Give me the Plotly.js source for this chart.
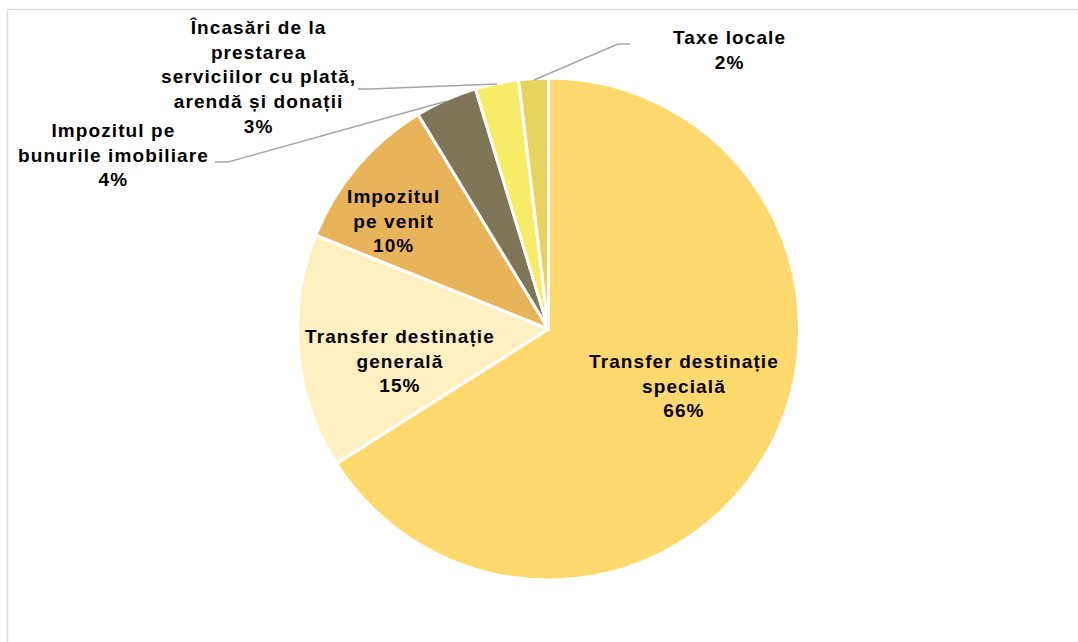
<!DOCTYPE html>
<html>
<head>
<meta charset="utf-8">
<script src="https://cdn.plot.ly/plotly-3.0.1.min.js"></script>
<style>html,body{margin:0;padding:0;background:#fff;}#chart{width:1078px;height:642px;} text{letter-spacing:1.1px;}</style>
</head>
<body>
<div id="chart"></div>
<script>
const labels = [
  "Transfer destinație specială",
  "Transfer destinație generală",
  "Impozitul pe venit",
  "Impozitul pe bunurile imobiliare",
  "Încasări de la prestarea serviciilor cu plată, arendă și donații",
  "Taxe locale"
];
const wrappedLabels = [
  "Transfer destinație<br>specială",
  "Transfer destinație<br>generală",
  "Impozitul<br>pe venit",
  "Impozitul pe<br>bunurile imobiliare",
  "Încasări de la<br>prestarea<br>serviciilor cu plată,<br>arendă și donații",
  "Taxe locale"
];
const values = [66.0, 15.1, 10.2, 4.0, 2.8, 1.9];
const colors = ["#FFD86E", "#FFF0C2", "#E8B45A", "#7F7659", "#F8EC66", "#E8D25E"];

const W = 1078, H = 642;
const px = x => x / W;
const py = y => 1 - y / H;
const total = values.reduce((a, b) => a + b, 0);
const pct = values.map(v => Math.round(v / total * 100) + "%");

// label anchor positions (pixels)
const labelPos = [[684, 386], [400, 361], [393, 221], [113, 155], [258, 77], [729, 50]];

const annotations = labels.map((l, i) => ({
  xref: "paper", yref: "paper",
  x: px(labelPos[i][0]), y: py(labelPos[i][1]),
  xanchor: "center", yanchor: "middle",
  text: "<b>" + wrappedLabels[i] + "<br>" + pct[i] + "</b>",
  showarrow: false,
  align: "center",
  font: {family: "Liberation Sans, Arial, sans-serif", size: 19, color: "#000000"}
}));

const leader = [
  [[534, 80], [618, 44], [630, 44]],
  [[358, 89], [370, 89], [497, 84]],
  [[215, 162], [228, 162], [447, 101]]
];
const shapes = [];
leader.forEach(pts => {
  for (let k = 0; k < pts.length - 1; k++) {
    shapes.push({type: "line", xref: "paper", yref: "paper",
      x0: px(pts[k][0]), y0: py(pts[k][1]), x1: px(pts[k+1][0]), y1: py(pts[k+1][1]),
      line: {color: "#A6A6A6", width: 1.5}});
  }
});
// chart frame (top and left)
shapes.push({type: "line", xref: "paper", yref: "paper", x0: px(7), y0: py(9.5), x1: 1, y1: py(9.5), line: {color: "#D9D9D9", width: 1.5}});
shapes.push({type: "line", xref: "paper", yref: "paper", x0: px(7.5), y0: py(9), x1: px(7.5), y1: 0, line: {color: "#D9D9D9", width: 1.5}});

const cx = 548.5, cy = 329, r = 251;
const trace = {
  type: "pie",
  labels: labels,
  values: values,
  sort: false,
  direction: "clockwise",
  rotation: 0,
  textinfo: "none",
  hoverinfo: "label+percent",
  marker: {colors: colors, line: {color: "#FFFFFF", width: 3}},
  domain: {x: [px(cx - r), px(cx + r)], y: [py(cy + r), py(cy - r)]},
  showlegend: false
};

Plotly.newPlot("chart", [trace], {
  width: W, height: H,
  margin: {l: 0, r: 0, t: 0, b: 0},
  paper_bgcolor: "#FFFFFF",
  showlegend: false,
  annotations: annotations,
  shapes: shapes
}, {displayModeBar: false, staticPlot: true});
</script>
</body>
</html>
